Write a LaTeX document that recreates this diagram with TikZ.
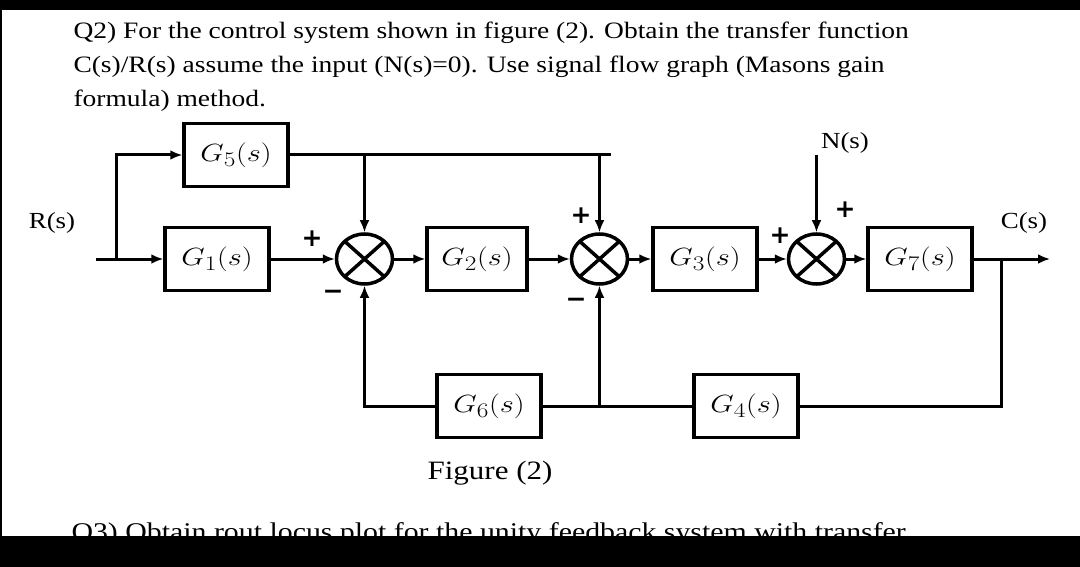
\documentclass[tikz,border=0pt]{standalone}
\usepackage{graphicx}
\usepackage{fontspec}
\setmainfont{Liberation Serif}[FakeStretch=1.17]
\newfontfamily\signfont{DejaVu Sans}
\usetikzlibrary{arrows.meta,positioning,shapes.geometric}
\newcommand{\gtf}[1]{\scalebox{1.22}[1]{$G_{#1}(s)$}}

\begin{document}
\begin{tikzpicture}[
    x=1pt, y=-1pt,
    >={Latex[length=12pt,width=10pt]},
    line width=3pt,
    blk/.style={draw, line width=3.5pt, minimum width=104pt, minimum height=63pt, inner sep=0pt, font=\fontsize{28}{30}\selectfont},
    summer/.style={draw, ellipse, line width=3.5pt, minimum width=56pt, minimum height=50pt, inner sep=0pt,
        path picture={\draw[line width=3.5pt] (path picture bounding box.north west) -- (path picture bounding box.south east)
                      (path picture bounding box.north east) -- (path picture bounding box.south west);}},
    sig/.style={font=\fontsize{23}{26}\selectfont, inner sep=0pt},
    sign/.style={font=\signfont\bfseries\fontsize{25}{27}\selectfont, inner sep=0pt},
    qtext/.style={anchor=base west, inner sep=0pt, font=\fontsize{23.5}{28}\selectfont}
]
\useasboundingbox (0,0) rectangle (1080,567);
\fill[white] (0,0) rectangle (1080,567);

\node[qtext] (q1) at (72,39) {Q2) For the control system shown in figure (2). Obtain the transfer function};
\node[qtext] (q2) at (72,73) {C(s)/R(s) assume the input (N(s)=0). Use signal flow graph (Masons gain};
\node[qtext] (q3) at (72,107) {formula) method.};
\node[qtext, font=\fontsize{25.5}{28}\selectfont] (q4) at (70,540) {Q3) Obtain rout locus plot for the unity feedback system with transfer};

\node[blk] (g1) at (217,259) {\gtf{1}};
\node[summer, right=64pt of g1] (s1) {};
\node[blk, right=31pt of s1, minimum width=100pt] (g2) {\gtf{2}};
\node[summer, right=41pt of g2] (s2) {};
\node[blk, right=22pt of s2] (g3) {\gtf{3}};
\node[summer, right=28pt of g3] (s3) {};
\node[blk, right=20pt of s3] (g7) {\gtf{7}};
\node[blk] (g5) at (236,155) {\gtf{5}};
\node[blk] (g6) at (489,406) {\gtf{6}};
\node[blk] (g4) at (746,406) {\gtf{4}};

\node[sig] (rlab) at (52,223) {R(s)};
\node[sig] (clab) at (1024,223) {C(s)};
\node[sig] (nlab) at (845,143) {N(s)};
\node[sig, font=\fontsize{26.5}{28}\selectfont] (figlab) at (490,473) {Figure (2)};

\node[sign] (p1) at (312,239) {+};
\node[sign] (m1) at (333,295) {−};
\node[sign] (p2) at (581,216) {+};
\node[sign] (m2) at (576,303) {−};
\node[sign] (p3) at (780,236) {+};
\node[sign] (p4) at (845,210) {+};

\coordinate (rin) at (96,259);
\coordinate (rj) at (116,259);
\coordinate (ffend) at (611,155);
\coordinate (cj) at (1001,259);
\coordinate (cout) at (1050,259);

\draw[->] (rin) -- (g1);
\draw[->] (rj) |- (g5);
\draw[->] (g1) -- (s1);
\draw[->] (s1) -- (g2);
\draw[->] (g2) -- (s2);
\draw[->] (s2) -- (g3);
\draw[->] (g3) -- (s3);
\draw[->] (s3) -- (g7);
\draw[->] (g7) -- (cout);
\draw (g5) -- (ffend);
\draw[->] (s1 |- g5) -- (s1);
\draw[->] (s2 |- g5) -- (s2);
\draw[->] (s3 |- nlab.south) -- (s3);
\draw (cj) |- (g4);
\draw (g4) -- (g6);
\draw[->] (s2 |- g4) -- (s2);
\draw[->] (g6) -| (s1);

\fill[black] (0,0) rectangle (1080,10);
\fill[black] (0,536) rectangle (1080,567);
\fill[black] (0,10) rectangle (2,536);
\end{tikzpicture}
\end{document}
